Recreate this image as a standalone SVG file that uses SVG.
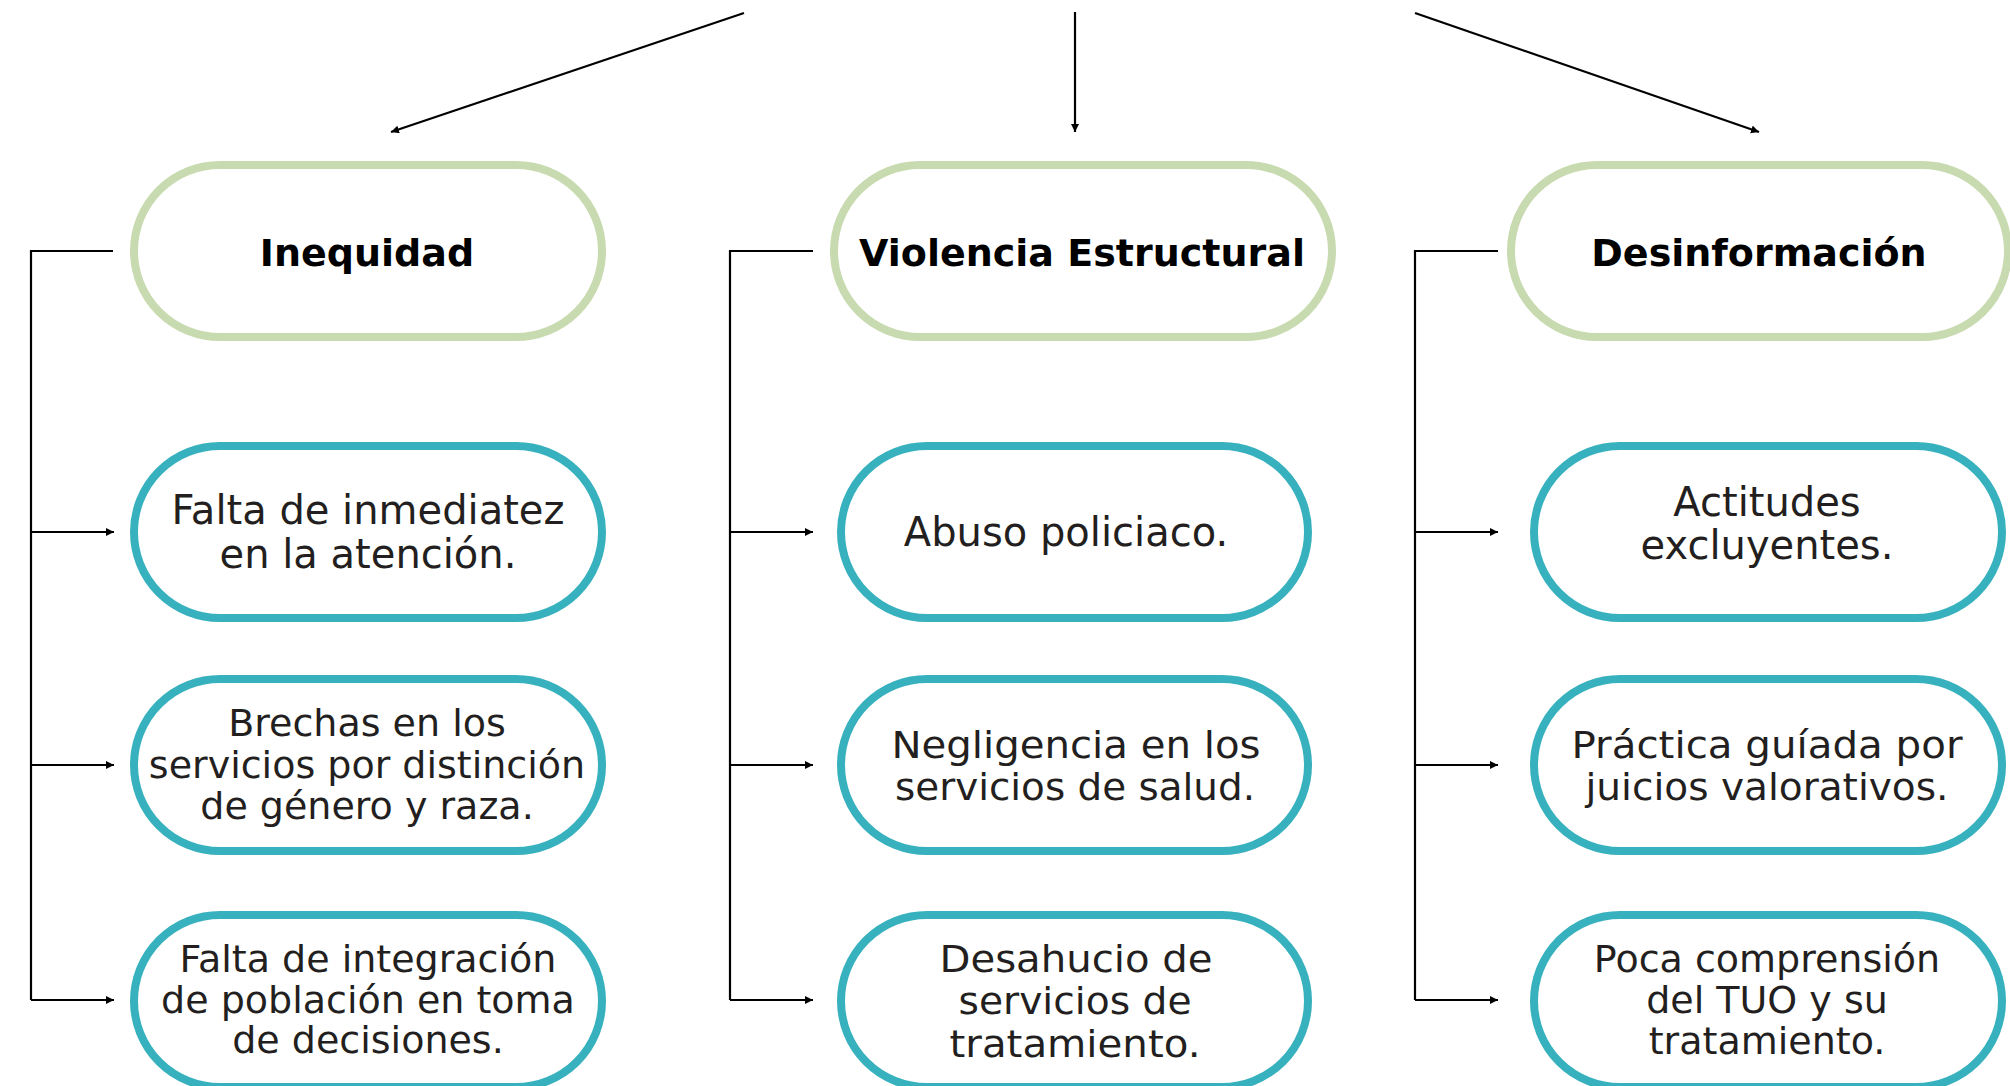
<svg xmlns="http://www.w3.org/2000/svg" width="2010" height="1086" viewBox="0 0 2010 1086">
<style>
.hdr{fill:#fff;stroke:#c8daaf;stroke-width:8}
.sub{fill:#fff;stroke:#37b1bd;stroke-width:8}
.ht{font-family:"DejaVu Sans","Liberation Sans",sans-serif;font-weight:bold;font-size:38px;fill:#000;text-anchor:middle}
.t2{font-family:"DejaVu Sans","Liberation Sans",sans-serif;font-size:40px;fill:#231f20;text-anchor:middle}
.t3{font-family:"DejaVu Sans","Liberation Sans",sans-serif;font-size:38px;fill:#231f20;text-anchor:middle}
.ln{fill:none;stroke:#000;stroke-width:2.2}
.ar{fill:none;stroke:#000;stroke-width:2.2;marker-end:url(#ah)}
</style>
<defs>
<marker id="ah" markerUnits="userSpaceOnUse" markerWidth="9" markerHeight="9" refX="8" refY="4" orient="auto">
<path d="M0,0 L8,4 L0,8 z" fill="#000"/>
</marker>
</defs>
<rect width="2010" height="1086" fill="#fff"/>
<g id="connectors">
<line class="ar" x1="744" y1="13" x2="391" y2="132"/>
<line class="ar" x1="1075" y1="12" x2="1075" y2="132"/>
<line class="ar" x1="1415" y1="13" x2="1759" y2="132"/>
<path class="ln" d="M113,251 H31 V1000"/>
<line class="ar" x1="31" y1="532" x2="114" y2="532"/>
<line class="ar" x1="31" y1="765" x2="114" y2="765"/>
<line class="ar" x1="31" y1="1000" x2="114" y2="1000"/>
<path class="ln" d="M813,251 H730 V1000"/>
<line class="ar" x1="730" y1="532" x2="813" y2="532"/>
<line class="ar" x1="730" y1="765" x2="813" y2="765"/>
<line class="ar" x1="730" y1="1000" x2="813" y2="1000"/>
<path class="ln" d="M1498,251 H1415 V1000"/>
<line class="ar" x1="1415" y1="532" x2="1498" y2="532"/>
<line class="ar" x1="1415" y1="765" x2="1498" y2="765"/>
<line class="ar" x1="1415" y1="1000" x2="1498" y2="1000"/>
</g>
<g id="inequidad">
<rect class="hdr" x="134" y="165" width="468" height="172" rx="86" ry="86"/>
<text class="ht" x="367" y="266">Inequidad</text>
</g>
<g id="violencia-estructural">
<rect class="hdr" x="834" y="165" width="498" height="172" rx="86" ry="86"/>
<text class="ht" x="1082" y="266">Violencia Estructural</text>
</g>
<g id="desinformacion">
<rect class="hdr" x="1511" y="165" width="497" height="172" rx="86" ry="86"/>
<text class="ht" x="1759" y="266">Desinformación</text>
</g>
<g id="falta-inmediatez">
<rect class="sub" x="134" y="446" width="468" height="172" rx="86" ry="86"/>
<text class="t2" x="368" y="524">Falta de inmediatez</text>
<text class="t2" x="368" y="568">en la atención.</text>
</g>
<g id="brechas">
<rect class="sub" x="134" y="679" width="468" height="172" rx="86" ry="86"/>
<text class="t3" x="367" y="736">Brechas en los</text>
<text class="t3" x="367" y="778">servicios por distinción</text>
<text class="t3" x="367" y="819">de género y raza.</text>
</g>
<g id="falta-integracion">
<rect class="sub" x="134" y="915" width="468" height="172" rx="86" ry="86"/>
<text class="t3" x="368" y="972">Falta de integración</text>
<text class="t3" x="368" y="1013">de población en toma</text>
<text class="t3" x="368" y="1053">de decisiones.</text>
</g>
<g id="abuso">
<rect class="sub" x="841" y="446" width="467" height="172" rx="86" ry="86"/>
<text class="t2" x="1066" y="546">Abuso policiaco.</text>
</g>
<g id="negligencia">
<rect class="sub" x="841" y="679" width="467" height="172" rx="86" ry="86"/>
<text class="t3" x="1076" y="758" textLength="369" lengthAdjust="spacingAndGlyphs">Negligencia en los</text>
<text class="t3" x="1075" y="800" textLength="360" lengthAdjust="spacingAndGlyphs">servicios de salud.</text>
</g>
<g id="desahucio">
<rect class="sub" x="841" y="915" width="467" height="172" rx="86" ry="86"/>
<text class="t3" x="1076" y="972" textLength="273" lengthAdjust="spacingAndGlyphs">Desahucio de</text>
<text class="t3" x="1075" y="1014" textLength="233" lengthAdjust="spacingAndGlyphs">servicios de</text>
<text class="t3" x="1075" y="1057" textLength="251" lengthAdjust="spacingAndGlyphs">tratamiento.</text>
</g>
<g id="actitudes">
<rect class="sub" x="1534" y="446" width="468" height="172" rx="86" ry="86"/>
<text class="t2" x="1767" y="516">Actitudes</text>
<text class="t2" x="1767" y="559">excluyentes.</text>
</g>
<g id="practica">
<rect class="sub" x="1534" y="679" width="468" height="172" rx="86" ry="86"/>
<text class="t3" x="1767" y="758" textLength="391" lengthAdjust="spacingAndGlyphs">Práctica guíada por</text>
<text class="t3" x="1767" y="800" textLength="363" lengthAdjust="spacingAndGlyphs">juicios valorativos.</text>
</g>
<g id="poca-comprension">
<rect class="sub" x="1534" y="915" width="468" height="172" rx="86" ry="86"/>
<text class="t3" x="1767" y="972">Poca comprensión</text>
<text class="t3" x="1767" y="1013">del TUO y su</text>
<text class="t3" x="1767" y="1054">tratamiento.</text>
</g>
</svg>
